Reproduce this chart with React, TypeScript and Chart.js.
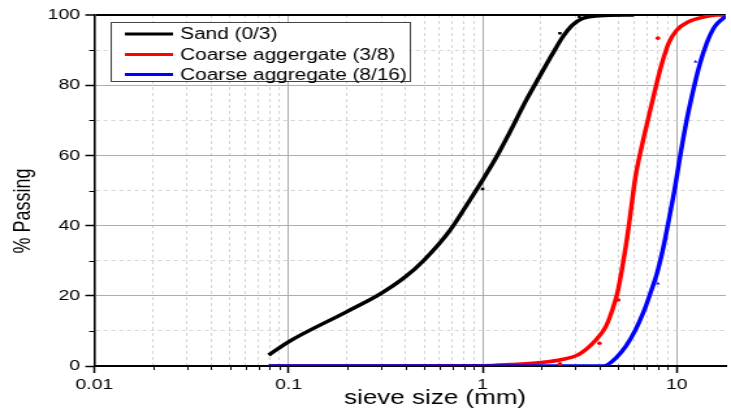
import React, { useEffect, useRef } from 'react';
import { Chart, registerables } from 'chart.js';

Chart.register(...registerables);

// ---------------- data ----------------
const seriesLabels = ['Sand (0/3)', 'Coarse aggergate (3/8)', 'Coarse aggregate (8/16)'];
const seriesColors = ['#000000', '#ff0000', '#0000ff'];

// fitted curves (sieve size mm, % passing)
const sandSize = [0.079, 0.1, 0.2, 0.3, 0.4, 0.5, 0.68, 0.86, 1.0, 1.18, 1.33, 1.68, 1.96, 2.3, 2.59, 2.91, 3.27, 4.0, 6.0];
const sandPassing = [3.1, 6.9, 15.5, 20.7, 25.4, 30.2, 38.7, 47.3, 53.0, 59.6, 64.9, 75.8, 82.4, 89.1, 93.8, 97.2, 99.0, 99.8, 100];

const c38Size = [0.079, 1.0, 1.37, 2.0, 2.49, 3.15, 3.83, 4.31, 4.66, 4.94, 5.25, 5.56, 5.78, 6.13, 6.63, 7.17, 7.76, 8.39, 9.07, 10.0, 11.5, 14.0, 16.0, 17.9];
const c38Passing = [0, 0.1, 0.4, 1.0, 1.7, 3.4, 7.4, 11.2, 16.0, 20.7, 28.3, 36.8, 43.5, 53.9, 63.0, 71.0, 79.0, 86.2, 91.9, 95.7, 98.1, 99.5, 100, 100];

const c816Size = [0.079, 4.2, 4.84, 5.45, 6.13, 6.76, 7.31, 7.91, 8.55, 8.89, 9.81, 10.4, 11.26, 12.17, 13.18, 14.25, 15.7, 17.3, 17.9];
const c816Passing = [0, 0, 2.2, 5.5, 10.3, 15.5, 20.7, 26.4, 34.0, 38.7, 51.1, 59.6, 70.1, 78.6, 86.2, 91.9, 96.7, 99.0, 99.6];

// measured points
const sandDotSize = [1.0, 2.5, 3.15];
const sandDotPassing = [50.4, 94.8, 99.5];
const c38DotSize = [2.5, 4.0, 5.0, 8.0];
const c38DotPassing = [0.6, 6.5, 18.8, 93.4];
const c816DotSize = [5.0, 8.0, 12.5];
const c816DotPassing = [0, 23.5, 86.7];

// axes
const xDecades = [0.01, 0.1, 1, 10];
const xTickLabels = ['0.01', '0.1', '1', '10'];
const xMin = 0.01;
const xMax = 17.9;
const yMin = 0;
const yMax = 100;
const yStep = 10;
const yLabelEvery = 20;
const xTitle = 'sieve size (mm)';
const yTitle = '% Passing';

const FONT = '"Liberation Sans", Arial, sans-serif';
const STRETCH = 731 / 562;

const toPts = (xs: number[], ys: number[]) => xs.map((x, i) => ({ x, y: ys[i] }));
const isMajorX = (v: number) => Math.abs(Math.log10(v) - Math.round(Math.log10(v))) < 1e-6;

export default function App() {
  const ref = useRef<HTMLCanvasElement>(null);

  useEffect(() => {
    document.body.style.margin = '0';
    const canvas = ref.current;
    if (!canvas) return;

    const overlay = {
      id: 'overlay',
      afterDraw(chart: any) {
        const { ctx, chartArea, scales } = chart;
        const xs = scales.x;
        const ys = scales.y;
        ctx.save();
        // minor tick marks
        ctx.strokeStyle = '#000';
        ctx.lineWidth = 1;
        xs.ticks.forEach((t: any) => {
          if (!isMajorX(t.value)) {
            const px = Math.round(xs.getPixelForValue(t.value)) + 0.5;
            ctx.beginPath();
            ctx.moveTo(px, chartArea.bottom);
            ctx.lineTo(px, chartArea.bottom + 4);
            ctx.stroke();
          }
        });
        ys.ticks.forEach((t: any) => {
          if (t.value % yLabelEvery !== 0) {
            const py = Math.round(ys.getPixelForValue(t.value)) + 0.5;
            ctx.beginPath();
            ctx.moveTo(chartArea.left - 4, py);
            ctx.lineTo(chartArea.left, py);
            ctx.stroke();
          }
        });
        // axis titles
        ctx.fillStyle = '#000';
        ctx.textAlign = 'center';
        ctx.textBaseline = 'middle';
        ctx.font = `20px ${FONT}`;
        ctx.fillText(xTitle, 334.5, 398);
        ctx.save();
        ctx.translate(17.9, 211);
        ctx.rotate(-Math.PI / 2);
        ctx.font = `18px ${FONT}`;
        ctx.fillText(yTitle, 0, 0);
        ctx.restore();
        // legend
        const bx = 84.6, by = 22, bw = 230, bh = 59;
        ctx.fillStyle = '#ffffff';
        ctx.fillRect(bx, by, bw, bh);
        ctx.strokeStyle = '#444';
        ctx.lineWidth = 1;
        ctx.strokeRect(Math.round(bx) + 0.5, by + 0.5, bw, bh);
        const rows = [34, 54.5, 74.5];
        ctx.font = `16px ${FONT}`;
        ctx.textAlign = 'left';
        ctx.textBaseline = 'middle';
        seriesLabels.forEach((lab, i) => {
          ctx.strokeStyle = seriesColors[i];
          ctx.lineWidth = 3;
          ctx.beginPath();
          ctx.moveTo(96, rows[i]);
          ctx.lineTo(133, rows[i]);
          ctx.stroke();
          ctx.fillStyle = '#000';
          ctx.fillText(lab, 138.5, rows[i] + 1);
        });
        ctx.restore();
      },
    };

    const lineDs = (i: number, xs: number[], ys: number[], order: number) => ({
      type: 'line',
      label: seriesLabels[i],
      data: toPts(xs, ys),
      borderColor: seriesColors[i],
      backgroundColor: seriesColors[i],
      borderWidth: 3.5,
      pointRadius: 0,
      cubicInterpolationMode: 'monotone',
      fill: false,
      order,
    });
    const dotDs = (i: number, xs: number[], ys: number[], style: string) => ({
      type: 'line',
      label: seriesLabels[i] + ' data',
      data: toPts(xs, ys),
      showLine: false,
      borderColor: seriesColors[i],
      backgroundColor: seriesColors[i],
      pointStyle: style,
      pointRadius: 1.8,
      pointBorderWidth: 0,
      order: 0,
    });

    const chart = new Chart(canvas, {
      type: 'line',
      data: {
        datasets: [
          dotDs(0, sandDotSize, sandDotPassing, 'rect'),
          dotDs(1, c38DotSize, c38DotPassing, 'circle'),
          dotDs(2, c816DotSize, c816DotPassing, 'triangle'),
          lineDs(2, c816Size, c816Passing, 1),
          lineDs(1, c38Size, c38Passing, 2),
          lineDs(0, sandSize, sandPassing, 3),
        ] as any,
      },
      options: {
        responsive: false,
        animation: false,
        devicePixelRatio: 1,
        layout: { padding: { top: 15, left: 0, right: 0, bottom: 0 } },
        plugins: { legend: { display: false }, tooltip: { enabled: false } },
        scales: {
          x: {
            type: 'logarithmic',
            min: xMin,
            max: xMax,
            afterBuildTicks: (scale: any) => {
              const ticks: any[] = [];
              xDecades.forEach((d) => {
                for (let m = 1; m <= 9; m++) {
                  const v = +(m * d).toPrecision(6);
                  if (v <= xMax) ticks.push({ value: v });
                }
              });
              scale.ticks = ticks;
            },
            afterFit: (scale: any) => {
              scale.height = 44;
            },
            ticks: {
              autoSkip: false,
              maxRotation: 0,
              minRotation: 0,
              padding: 3,
              color: '#000',
              font: { family: FONT, size: 15 },
              callback: (value: any) => {
                const idx = xDecades.findIndex((d) => Math.abs(d - value) < d * 1e-6);
                return idx >= 0 ? xTickLabels[idx] : '';
              },
            },
            grid: {
              color: (c: any) => {
                if (!c.tick) return 'transparent';
                const v = c.tick.value;
                if (Math.abs(v - xMin) < 1e-9) return 'transparent';
                return isMajorX(v) ? '#adadad' : '#d4d4d4';
              },
              lineWidth: 1,
              tickLength: 7,
              tickWidth: 1.5,
              tickColor: (c: any) => (c.tick && isMajorX(c.tick.value) ? '#000' : 'transparent'),
            },
            border: {
              display: true,
              color: '#000',
              width: 2,
              dash: (c: any) => (c.tick && !isMajorX(c.tick.value) ? [3, 3] : []),
            },
          },
          y: {
            type: 'linear',
            min: yMin,
            max: yMax,
            afterFit: (scale: any) => {
              scale.width = 72.6;
            },
            ticks: {
              stepSize: yStep,
              autoSkip: false,
              padding: 4,
              color: '#000',
              font: { family: FONT, size: 15 },
              callback: (value: any) => (value % yLabelEvery === 0 ? String(value) : ''),
            },
            grid: {
              color: (c: any) => {
                if (!c.tick) return 'transparent';
                const v = c.tick.value;
                if (v === yMin) return 'transparent';
                if (v === yMax) return '#000';
                return v % yLabelEvery === 0 ? '#adadad' : '#d4d4d4';
              },
              lineWidth: (c: any) => (c.tick && c.tick.value === yMax ? 2 : 1),
              tickLength: 7,
              tickWidth: 1.5,
              tickColor: (c: any) => (c.tick && c.tick.value % yLabelEvery === 0 ? '#000' : 'transparent'),
            },
            border: {
              display: true,
              color: '#000',
              width: 1.6,
              dash: (c: any) => (c.tick && c.tick.value % yLabelEvery !== 0 ? [3, 3] : []),
            },
          },
        },
      } as any,
      plugins: [overlay],
    });

    return () => chart.destroy();
  }, []);

  return (
    <div style={{ width: 731, height: 410, overflow: 'hidden', background: '#fff' }}>
      <canvas
        ref={ref}
        width={562}
        height={410}
        style={{ transform: `scaleX(${STRETCH})`, transformOrigin: '0 0', display: 'block' }}
      />
    </div>
  );
}
